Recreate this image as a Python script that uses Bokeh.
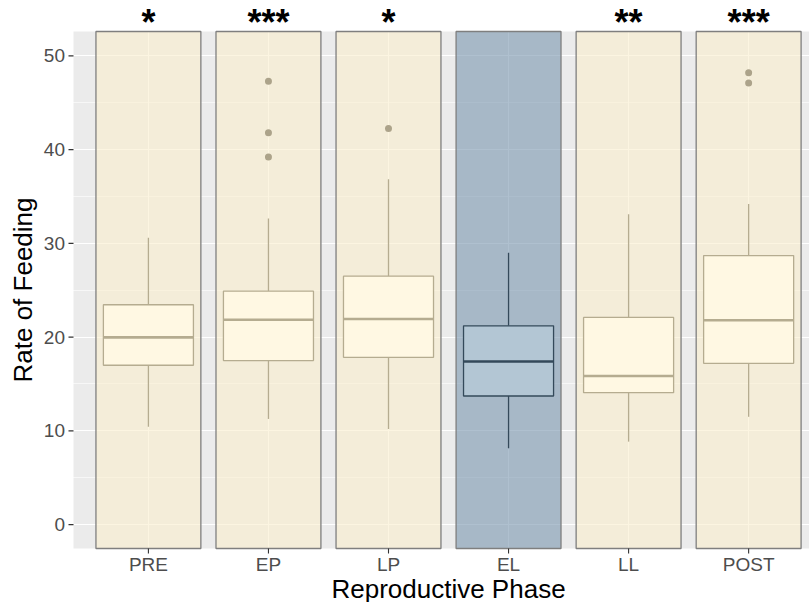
import math
from bokeh.plotting import figure
from bokeh.models import FixedTicker, Range1d, ColumnDataSource
from bokeh.core.properties import value
from bokeh.embed import file_html
from bokeh.resources import INLINE

# ---- data ----
phases = ["PRE", "EP", "LP", "EL", "LL", "POST"]
whisker_low = [10.45, 11.27, 10.2, 8.14, 8.85, 11.5]
q1 = [17.0, 17.5, 17.84, 13.72, 14.07, 17.2]
medians = [19.97, 21.85, 21.93, 17.4, 15.85, 21.8]
q3 = [23.45, 24.9, 26.5, 21.2, 22.1, 28.7]
whisker_high = [30.6, 32.65, 36.85, 29.0, 33.1, 34.2]
outlier_phase = ["EP", "EP", "EP", "LP", "POST", "POST"]
outlier_values = [47.3, 41.8, 39.2, 42.25, 48.2, 47.1]
significance = ["*", "***", "*", "", "**", "***"]
highlight = "EL"
y_ticks = [0, 10, 20, 30, 40, 50]
y_tick_labels = ["0", "10", "20", "30", "40", "50"]
y_minor = [5, 15, 25, 35, 45]
x_title = "Reproductive Phase"
y_title = "Rate of Feeding"

# ---- styles / layout ----
FONT = "Liberation Sans"
bg_fill = {True: "#7A96AF", False: "#FAEECD"}
box_fill = {True: "#B3C6D4", False: "#FFF8E3"}
box_line = {True: "#34495A", False: "#B5AC90"}
out_color = "#ACA38A"
tick_color = "#333333"
label_color = "#4D4D4D"

xs = list(range(1, len(phases) + 1))
ymin, ymax = -2.55, 52.6            # panel limits (data)
xmin, xmax = 0.376, 6.507
W, H = 809, 602
PANEL_LEFT = 73
PANEL_TOP, PANEL_BOTTOM = 31, 548   # px from top
yscale = (PANEL_BOTTOM - PANEL_TOP) / (ymax - ymin)   # px per unit
xscale = (W - PANEL_LEFT) / (xmax - xmin)


def py(px):
    """data y for a pixel row measured from the top of the canvas"""
    return ymax - (px - PANEL_TOP) / yscale


def px_(px):
    """data x for a pixel column measured from the left of the canvas"""
    return xmin + (px - PANEL_LEFT) / xscale


p = figure(width=W, height=H, output_backend="svg", toolbar_location=None,
           x_range=Range1d(px_(0), px_(W)), y_range=Range1d(py(H), py(0)),
           x_axis_location=None, y_axis_location=None,
           min_border_left=0, min_border_right=0, min_border_top=0, min_border_bottom=0)
p.outline_line_color = None
p.background_fill_color = "white"
p.border_fill_color = "white"

# grey panel (under the grid)
p.quad(left=[xmin], right=[xmax], bottom=[ymin], top=[ymax],
       fill_color="#EBEBEB", line_color=None, level="image")

p.xgrid.ticker = FixedTicker(ticks=xs)
p.ygrid.ticker = FixedTicker(ticks=y_ticks, minor_ticks=y_minor)
for g in (p.xgrid, p.ygrid):
    g.grid_line_color = "white"
    g.grid_line_width = 1.1
p.ygrid.minor_grid_line_color = "white"
p.ygrid.minor_grid_line_width = 0.6

is_hl = [ph == highlight for ph in phases]

src_bg = ColumnDataSource(dict(x=xs, fill=[bg_fill[h] for h in is_hl]))
p.vbar(x="x", width=0.874, bottom=ymin, top=ymax, source=src_bg,
       fill_color="fill", fill_alpha=0.6, line_color="#7F7F7F", line_width=1.3)

src = ColumnDataSource(dict(
    x=xs, lo=whisker_low, q1=q1, med=medians, q3=q3, hi=whisker_high,
    fill=[box_fill[h] for h in is_hl], line=[box_line[h] for h in is_hl],
    xl=[x - 0.375 for x in xs], xr=[x + 0.375 for x in xs]))
p.segment(x0="x", y0="q3", x1="x", y1="hi", source=src, line_color="line", line_width=1.3)
p.segment(x0="x", y0="lo", x1="x", y1="q1", source=src, line_color="line", line_width=1.3)
p.vbar(x="x", width=0.75, bottom="q1", top="q3", source=src,
       fill_color="fill", line_color="line", line_width=1.3)
p.segment(x0="xl", y0="med", x1="xr", y1="med", source=src, line_color="line", line_width=2.6)

ox = [phases.index(ph) + 1 for ph in outlier_phase]
p.scatter(ox, outlier_values, size=7, fill_color=out_color, line_color=None)

# significance stars
star_x = [x for x, s in zip(xs, significance) if s]
star_t = [s for s in significance if s]
p.text(x=star_x, y=[py(22)] * len(star_x), text=star_t, text_align="center",
       text_baseline="middle", text_font=value(FONT), text_font_size="36px",
       text_font_style="bold", text_color="black")

# x axis (ticks, labels, title)
p.segment(x0=xs, y0=[ymin] * len(xs), x1=xs, y1=[py(PANEL_BOTTOM + 5)] * len(xs),
          line_color=tick_color, line_width=1.1)
p.text(x=xs, y=[py(563.5)] * len(xs), text=phases, text_align="center",
       text_baseline="middle", text_font=value(FONT), text_font_size="19px",
       text_color=label_color)
p.text(x=[sum(xs) / len(xs)], y=[py(588)], text=[x_title], text_align="center",
       text_baseline="middle", text_font=value(FONT), text_font_size="26px",
       text_color="black")

# y axis (ticks, labels, title)
p.segment(x0=[px_(PANEL_LEFT - 5)] * len(y_ticks), y0=y_ticks,
          x1=[xmin] * len(y_ticks), y1=y_ticks, line_color=tick_color, line_width=1.1)
p.text(x=[px_(64.5)] * len(y_ticks), y=y_ticks, text=y_tick_labels, text_align="right",
       text_baseline="middle", text_font=value(FONT), text_font_size="19px",
       text_color=label_color)
p.text(x=[px_(22)], y=[(ymin + ymax) / 2], text=[y_title], angle=math.pi / 2,
       text_align="center", text_baseline="middle", text_font=value(FONT),
       text_font_size="26px", text_color="black")

open("out.html", "w").write(file_html(p, INLINE))
